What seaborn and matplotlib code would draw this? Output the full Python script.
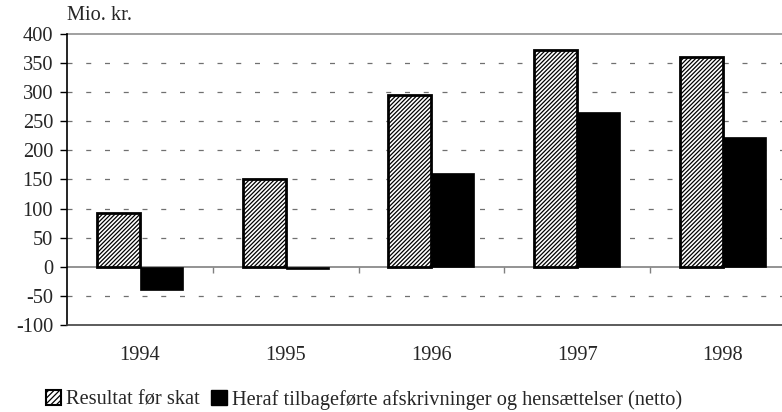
import pandas as pd
import matplotlib.pyplot as plt
import seaborn as sns
from matplotlib.patches import Patch

years = ["1994", "1995", "1996", "1997", "1998"]
resultat = [93, 150, 295, 372, 360]
tilbagefoert = [-40, -3, 162, 266, 223]
series_names = ["Resultat før skat",
                "Heraf tilbageførte afskrivninger og hensættelser (netto)"]

df = pd.DataFrame({
    "year": years * 2,
    "value": resultat + tilbagefoert,
    "serie": [series_names[0]] * 5 + [series_names[1]] * 5,
})

sns.set_style("white")
plt.rcParams['font.family'] = ['Liberation Serif', 'DejaVu Serif']
plt.rcParams['hatch.linewidth'] = 0.9
plt.rcParams['axes.unicode_minus'] = False

FS = 14.7

fig = plt.figure(figsize=(7.82, 4.12), dpi=100)
# plot area runs past the right edge of the picture, as in the original
ax = fig.add_axes([0.0857, 0.2112, 0.932, 0.7063])

sns.barplot(data=df, x="year", y="value", hue="serie", ax=ax,
            palette=["white", "black"], width=0.59, gap=0,
            saturation=1, legend=False)

# hatched series
for p in ax.containers[0]:
    p.set_hatch("////////")
    p.set_edgecolor("black")
    p.set_linewidth(2)
for p in ax.containers[1]:
    p.set_edgecolor("black")
    p.set_linewidth(0.5)

ax.set_ylim(-100, 400)
ax.set_yticks(range(-100, 401, 50))
ax.set_xlim(-0.5, 4.5)
ax.set_xlabel("")
ax.set_ylabel("")

# dashed gridlines
for v in range(-50, 400, 50):
    if v == 0:
        continue
    ax.axhline(v, color="#707070", lw=0.9, ls=(0, (4, 11)), zorder=0)
ax.axhline(400, color="#909090", lw=1.2, zorder=0, clip_on=False)
ax.axhline(0, color="#808080", lw=1.2, zorder=0.5)

for s in ["top", "right"]:
    ax.spines[s].set_visible(False)
ax.spines["left"].set_color("black")
ax.spines["left"].set_linewidth(1.2)
ax.spines["bottom"].set_color("#404040")
ax.spines["bottom"].set_linewidth(1.2)

ax.tick_params(axis="y", direction="out", length=5, width=1, color="black",
               labelsize=FS, pad=5, left=True)
ax.tick_params(axis="x", length=0, labelsize=FS, pad=15)

# category boundary ticks on the zero line
sec = ax.secondary_xaxis(0.2)
sec.set_xticks([i + 0.5 for i in range(4)])
sec.set_xticklabels([])
sec.tick_params(direction="out", length=4.5, width=1, color="#808080")
sec.spines["bottom"].set_visible(False)

ax.text(0.0, 1.03, "Mio. kr.", transform=ax.transAxes, fontsize=FS,
        ha="left", va="bottom")

handles = [Patch(facecolor="white", edgecolor="black", hatch="//////", lw=1.5),
           Patch(facecolor="black", edgecolor="black")]
fig.legend(handles, series_names, loc="center", bbox_to_anchor=(0.4655, 0.03),
           ncol=2, frameon=False, fontsize=FS, handlelength=0.75,
           handleheight=0.75, handletextpad=0.25, columnspacing=0.55,
           borderpad=0, borderaxespad=0)

fig.savefig("out.png", dpi=100)
